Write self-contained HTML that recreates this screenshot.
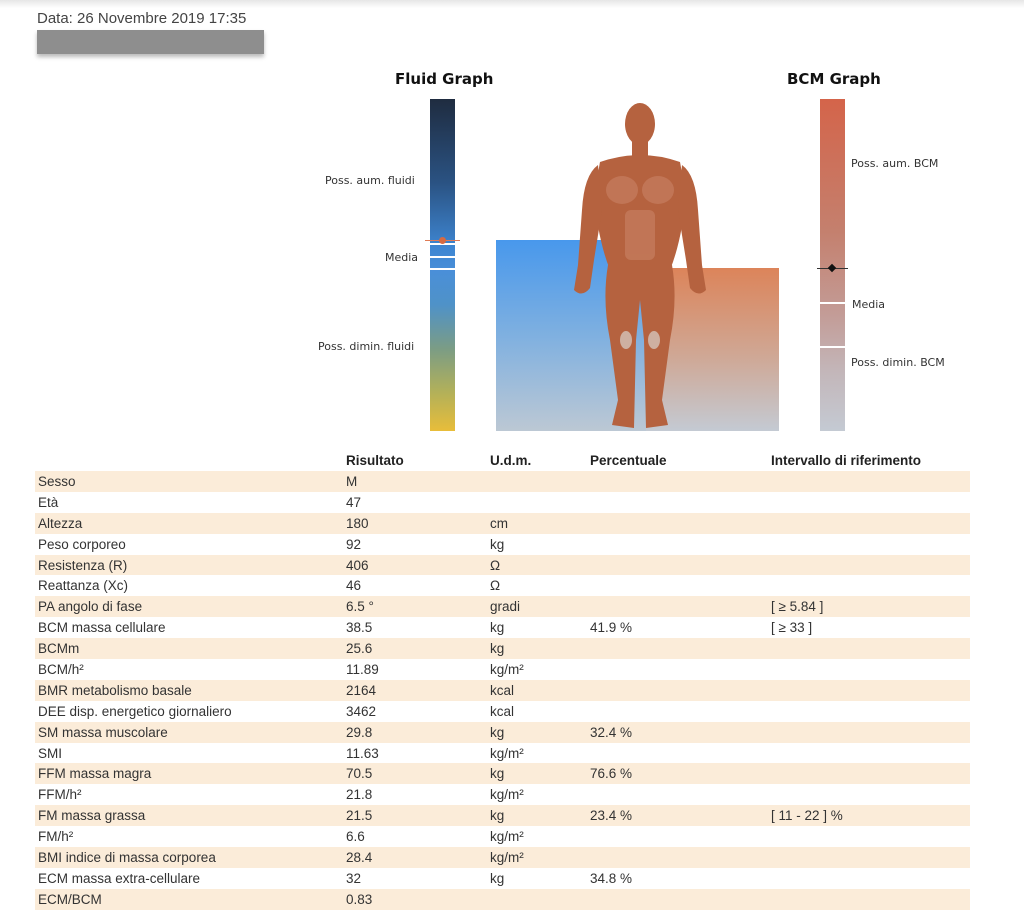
<!DOCTYPE html>
<html><head><meta charset="utf-8"><style>
body{margin:0;width:1024px;height:915px;background:#fff;position:relative;overflow:hidden;font-family:"Liberation Sans",sans-serif;color:#333}
.a{position:absolute}
.lbl{position:absolute;font-size:11px;color:#333;font-family:"DejaVu Sans","Liberation Sans",sans-serif;white-space:nowrap}
.ttl{position:absolute;font-weight:bold;font-size:15px;color:#111;font-family:"DejaVu Sans","Liberation Sans",sans-serif}
table{position:absolute;left:35px;top:450px;width:935px;border-collapse:collapse;font-size:13.5px}
td,th{padding:0 0 0 3px;height:20.9px;text-align:left;white-space:nowrap}
th{font-weight:bold;color:#222;height:21px}
tr.s td{background:#fbecd9}
</style></head><body>
<div class="a" style="left:0;top:0;width:1024px;height:8px;background:linear-gradient(#e6e6e6,#fff)"></div>
<div class="a" style="left:37px;top:10px;font-size:15px;color:#444">Data: 26 Novembre 2019 17:35</div>
<div class="a" style="left:37px;top:30px;width:227px;height:24px;background:#8e8e8e;box-shadow:0 3px 4px #bbb"></div>

<div class="ttl" style="left:395px;top:70px">Fluid Graph</div>
<div class="ttl" style="left:787px;top:70px">BCM Graph</div>

<div class="a" style="left:430px;top:99px;width:25px;height:332px;background:linear-gradient(#1f2c40 0%,#2a5282 25%,#3e86d2 45%,#4a8fd8 52%,#4f92c8 62%,#7a9c86 75%,#b1b05a 88%,#e8bd3a 100%)"></div>
<div class="a" style="left:430px;top:243px;width:25px;height:2px;background:#fff"></div>
<div class="a" style="left:430px;top:256px;width:25px;height:2px;background:#fff"></div>
<div class="a" style="left:430px;top:268px;width:25px;height:2px;background:#fff"></div>
<div class="a" style="left:425px;top:240px;width:35px;height:1px;background:#e07b55"></div>
<div class="a" style="left:439px;top:237px;width:7px;height:7px;border-radius:50%;background:#d66a42"></div>
<div class="lbl" style="left:325px;top:174px">Poss. aum. fluidi</div>
<div class="lbl" style="left:385px;top:251px">Media</div>
<div class="lbl" style="left:318px;top:340px">Poss. dimin. fluidi</div>

<div class="a" style="left:496px;top:240px;width:150px;height:191px;background:linear-gradient(#4898ec,#7fb0e0 50%,#bcc8d4)"></div>
<div class="a" style="left:646px;top:268px;width:133px;height:163px;background:linear-gradient(#dc845a,#cfa896 55%,#c4cad3)"></div>

<svg class="a" style="left:570px;top:100px" width="140" height="334" viewBox="0 0 140 334">
<g fill="#b5623f">
<ellipse cx="70" cy="24" rx="15" ry="21"/>
<rect x="62" y="40" width="16" height="18"/>
<path d="M30 62 Q70 48 110 62 L116 95 Q112 140 100 170 L40 170 Q28 140 24 95Z"/>
<path d="M28 65 Q14 75 12 110 L8 165 L4 190 Q12 198 20 188 L24 160 L32 110Z"/>
<path d="M112 65 Q126 75 128 110 L132 165 L136 190 Q128 198 120 188 L116 160 L108 110Z"/>
<path d="M38 165 L102 165 Q108 200 100 240 L92 300 L98 325 L76 328 L74 240 L70 200 L66 240 L64 328 L42 325 L48 300 L40 240 Q32 200 38 165Z"/>
</g>
<g fill="#c98366" opacity=".6"><ellipse cx="52" cy="90" rx="16" ry="14"/><ellipse cx="88" cy="90" rx="16" ry="14"/><rect x="55" y="110" width="30" height="50" rx="6"/></g>
<g fill="#d9d2cc" opacity=".7"><ellipse cx="56" cy="240" rx="6" ry="9"/><ellipse cx="84" cy="240" rx="6" ry="9"/></g>
</svg>

<div class="a" style="left:820px;top:99px;width:25px;height:332px;background:linear-gradient(#d4644a 0%,#c4806e 40%,#c39c97 65%,#c3b6b9 82%,#c4cad3 100%)"></div>
<div class="a" style="left:820px;top:302px;width:25px;height:2px;background:#fff"></div>
<div class="a" style="left:820px;top:346px;width:25px;height:2px;background:#fff"></div>
<div class="a" style="left:817px;top:268px;width:31px;height:1px;background:#333"></div>
<div class="a" style="left:829px;top:265px;width:6px;height:6px;background:#111;transform:rotate(45deg)"></div>
<div class="lbl" style="left:851px;top:157px">Poss. aum. BCM</div>
<div class="lbl" style="left:852px;top:298px">Media</div>
<div class="lbl" style="left:851px;top:356px">Poss. dimin. BCM</div>

<table>
<tr><th style="width:305px"></th><th style="width:141px">Risultato</th><th style="width:97px">U.d.m.</th><th style="width:178px">Percentuale</th><th>Intervallo di riferimento</th></tr>
<tr class="s"><td>Sesso</td><td>M</td><td></td><td></td><td></td></tr>
<tr><td>Età</td><td>47</td><td></td><td></td><td></td></tr>
<tr class="s"><td>Altezza</td><td>180</td><td>cm</td><td></td><td></td></tr>
<tr><td>Peso corporeo</td><td>92</td><td>kg</td><td></td><td></td></tr>
<tr class="s"><td>Resistenza (R)</td><td>406</td><td>Ω</td><td></td><td></td></tr>
<tr><td>Reattanza (Xc)</td><td>46</td><td>Ω</td><td></td><td></td></tr>
<tr class="s"><td>PA angolo di fase</td><td>6.5 °</td><td>gradi</td><td></td><td>[ ≥ 5.84 ]</td></tr>
<tr><td>BCM massa cellulare</td><td>38.5</td><td>kg</td><td>41.9 %</td><td>[ ≥ 33 ]</td></tr>
<tr class="s"><td>BCMm</td><td>25.6</td><td>kg</td><td></td><td></td></tr>
<tr><td>BCM/h²</td><td>11.89</td><td>kg/m²</td><td></td><td></td></tr>
<tr class="s"><td>BMR metabolismo basale</td><td>2164</td><td>kcal</td><td></td><td></td></tr>
<tr><td>DEE disp. energetico giornaliero</td><td>3462</td><td>kcal</td><td></td><td></td></tr>
<tr class="s"><td>SM massa muscolare</td><td>29.8</td><td>kg</td><td>32.4 %</td><td></td></tr>
<tr><td>SMI</td><td>11.63</td><td>kg/m²</td><td></td><td></td></tr>
<tr class="s"><td>FFM massa magra</td><td>70.5</td><td>kg</td><td>76.6 %</td><td></td></tr>
<tr><td>FFM/h²</td><td>21.8</td><td>kg/m²</td><td></td><td></td></tr>
<tr class="s"><td>FM massa grassa</td><td>21.5</td><td>kg</td><td>23.4 %</td><td>[ 11 - 22 ] %</td></tr>
<tr><td>FM/h²</td><td>6.6</td><td>kg/m²</td><td></td><td></td></tr>
<tr class="s"><td>BMI indice di massa corporea</td><td>28.4</td><td>kg/m²</td><td></td><td></td></tr>
<tr><td>ECM massa extra-cellulare</td><td>32</td><td>kg</td><td>34.8 %</td><td></td></tr>
<tr class="s"><td>ECM/BCM</td><td>0.83</td><td></td><td></td><td></td></tr>
</table>
</body></html>
